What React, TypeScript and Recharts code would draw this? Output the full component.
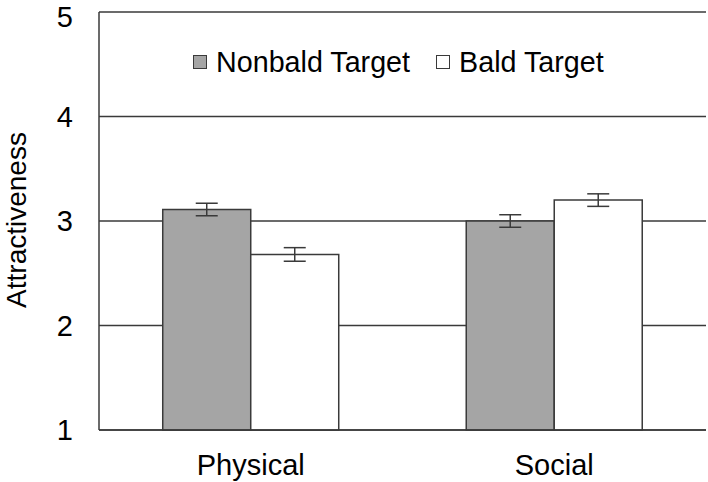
import {
  BarChart,
  Bar,
  XAxis,
  YAxis,
  CartesianGrid,
  ErrorBar,
  Label,
} from "recharts";

const categories = ["Physical", "Social"];
const nonbald = [3.11, 3.0];
const bald = [2.68, 3.2];
const nonbaldErr = [0.06, 0.06];
const baldErr = [0.065, 0.06];
const yTicks = [1, 2, 3, 4, 5];

const FONT = "'Liberation Sans', Arial, sans-serif";
const LINE = "#3a3a3a";
const GRAY = "#a5a5a5";

const data = categories.map((name, i) => ({
  name,
  nonbald: nonbald[i],
  bald: bald[i],
  nonbaldErr: nonbaldErr[i],
  baldErr: baldErr[i],
}));

const legendItems = [
  { label: "Nonbald Target", fill: GRAY },
  { label: "Bald Target", fill: "#ffffff" },
];

// legend sits inside the plot, so draw it as an overlay
function ChartLegend() {
  return (
    <div
      style={{
        position: "absolute",
        top: 44,
        left: 193,
        display: "flex",
        fontFamily: FONT,
        fontSize: 28.7,
        lineHeight: "36px",
        color: "#000",
        whiteSpace: "nowrap",
      }}
    >
      {legendItems.map((it) => (
        <div key={it.label} style={{ display: "flex", alignItems: "center", marginRight: 26 }}>
          <span
            style={{
              width: 12,
              height: 12,
              background: it.fill,
              border: `1.5px solid ${LINE}`,
              marginRight: 9,
              display: "inline-block",
            }}
          />
          <span>{it.label}</span>
        </div>
      ))}
    </div>
  );
}

export default function App() {
  return (
    <div style={{ position: "fixed", top: 0, left: 0, width: 708, height: 482, background: "#fff" }}>
      <BarChart
        width={708}
        height={482}
        data={data}
        margin={{ top: 12, right: 2, bottom: 0, left: 0 }}
        barCategoryGap="21%"
        barGap={0}
      >
        <CartesianGrid vertical={false} stroke={LINE} strokeWidth={1.5} />
        <XAxis
          dataKey="name"
          height={52}
          tickSize={0}
          tickMargin={24}
          axisLine={{ stroke: LINE, strokeWidth: 1.5 }}
          tick={{ fill: "#000", fontSize: 29, fontFamily: FONT }}
        />
        <YAxis
          domain={[1, 5]}
          ticks={yTicks}
          width={99}
          tickSize={0}
          tickMargin={26}
          axisLine={{ stroke: LINE, strokeWidth: 1.5 }}
          tick={{ fill: "#000", fontSize: 29, fontFamily: FONT }}
        >
          <Label
            content={() => (
              <text
                x={16}
                y={220}
                transform="rotate(-90 16 220)"
                textAnchor="middle"
                dominantBaseline="central"
                fontSize={28}
                fontFamily={FONT}
                fill="#000"
              >
                Attractiveness
              </text>
            )}
          />
        </YAxis>
        <YAxis
          yAxisId="right"
          orientation="right"
          domain={[1, 5]}
          width={0}
          tick={false}
          tickLine={false}
          axisLine={{ stroke: LINE, strokeWidth: 1.5 }}
        />
        <Bar dataKey="nonbald" fill={GRAY} stroke={LINE} strokeWidth={1.5} isAnimationActive={false}>
          <ErrorBar dataKey="nonbaldErr" width={11} stroke={LINE} strokeWidth={1.5} />
        </Bar>
        <Bar dataKey="bald" fill="#ffffff" stroke={LINE} strokeWidth={1.5} isAnimationActive={false}>
          <ErrorBar dataKey="baldErr" width={11} stroke={LINE} strokeWidth={1.5} />
        </Bar>
      </BarChart>
      <ChartLegend />
    </div>
  );
}
